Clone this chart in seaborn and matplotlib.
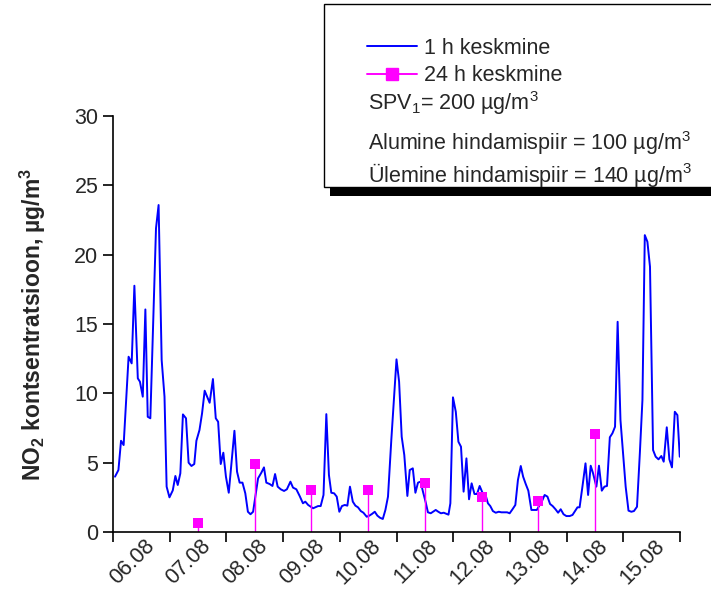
import matplotlib
matplotlib.use("Agg")
import matplotlib.pyplot as plt
import matplotlib.transforms as mtransforms
from matplotlib.lines import Line2D
from matplotlib.patches import Rectangle
import seaborn as sns
import pandas as pd
import numpy as np

# ---------------- data ----------------
# hours since 06.08 00:00, hourly NO2 (µg/m3)
hours = [0.85, 2.3, 3.4, 4.5, 6.6, 7.9, 9.05, 10.5, 11.4, 12.6, 13.7, 14.7, 15.8, 18.2, 19.3,
         20.6, 21.8, 22.7, 23.9, 25.3, 26.4, 27.4, 28.5, 29.6, 30.9, 32.0, 33.2, 34.4, 35.3,
         36.6, 37.7, 38.8, 40.9, 42.3, 43.5, 44.5, 45.6, 46.7, 47.8, 49.0, 51.4, 52.5, 53.6,
         54.8, 56.0, 57.1, 58.2, 59.3, 61.4, 62.8, 63.9, 64.9, 66.3, 67.5, 68.6, 69.7, 71.0,
         72.4, 73.6, 75.1, 76.2, 77.6, 79.0, 80.4, 81.4, 82.6, 84.7, 86.8, 87.9, 89.1, 90.3,
         91.4, 92.4, 93.6, 94.7, 95.8, 96.9, 98.1, 99.2, 100.3, 101.5, 102.6, 103.7, 104.9,
         106.0, 107.4, 108.5, 109.6, 110.8, 111.9, 113.0, 114.2, 115.3, 116.4, 117.8, 120.0,
         121.1, 122.2, 123.3, 124.6, 125.6, 126.9, 128.0, 129.1, 130.2, 131.2, 132.4, 133.3,
         134.5, 136.6, 137.7, 138.8, 140.0, 142.0, 142.8, 143.9, 145.1, 146.2, 147.3, 148.4,
         149.6, 150.7, 151.8, 153.0, 154.1, 155.2, 156.4, 157.8, 158.7, 159.7, 160.8, 162.0,
         163.3, 164.4, 166.8, 167.9, 169.1, 170.3, 171.4, 172.6, 173.6, 174.7, 175.8, 177.1,
         178.2, 179.4, 180.6, 181.8, 182.7, 183.9, 185.0, 186.1, 187.3, 188.4, 189.5, 190.7,
         191.9, 193.3, 194.5, 195.4, 196.6, 197.5, 198.7, 200.0, 201.1, 202.2, 203.2, 204.6,
         205.7, 206.9, 208.0, 209.1, 210.3, 211.4, 212.5, 213.6, 214.8, 215.9, 217.0, 218.2,
         219.4, 220.5, 221.8, 223.0, 224.1, 225.1, 226.2, 227.3, 228.6, 229.7, 230.9, 232.1,
         233.1, 234.4, 235.5, 236.6, 237.8, 238.9, 239.9]
no2_1h = [3.99, 4.47, 6.58, 6.27, 12.64, 12.16, 17.76, 11.08, 10.84, 9.76, 16.05, 8.31, 8.2,
          21.9, 23.58, 12.4, 9.76, 3.27, 2.5, 3.0, 4.04, 3.39, 4.23, 8.48, 8.2, 5.0, 4.76, 4.9,
          6.58, 7.35, 8.56, 10.19, 9.32, 11.03, 8.2, 7.95, 4.9, 5.72, 3.99, 2.83, 7.3, 4.35,
          3.56, 3.56, 2.79, 1.46, 1.28, 1.46, 3.87, 4.28, 4.66, 3.56, 3.46, 3.32, 4.18, 3.27,
          3.08, 2.96, 3.08, 3.63, 3.2, 3.08, 2.6, 2.07, 2.19, 1.95, 1.71, 1.87, 1.87, 2.67,
          8.5, 4.11, 2.83, 2.79, 2.55, 1.46, 1.87, 1.95, 1.9, 3.27, 2.19, 1.9, 1.78, 1.51,
          1.39, 1.1, 1.18, 1.3, 1.46, 1.18, 1.03, 0.94, 1.59, 2.55, 6.63, 12.45, 10.84, 6.87,
          5.55, 2.6, 4.47, 4.59, 2.83, 3.56, 3.63, 2.91, 2.11, 1.42, 1.35, 1.59, 1.46, 1.35,
          1.39, 1.25, 2.07, 9.71, 8.67, 6.51, 6.15, 2.91, 5.31, 2.36, 3.51, 2.74, 2.74, 3.32,
          2.83, 2.6, 2.07, 1.87, 1.51, 1.39, 1.46, 1.42, 1.42, 1.35, 1.64, 1.95, 3.75, 4.76,
          3.99, 3.46, 2.98, 1.59, 1.59, 1.59, 1.95, 2.31, 2.67, 2.55, 2.02, 1.87, 1.64, 1.39,
          1.64, 1.28, 1.15, 1.15, 1.23, 1.46, 1.78, 1.78, 3.27, 4.95, 2.67, 4.78, 4.23, 3.27,
          4.78, 2.98, 3.27, 3.32, 6.83, 7.12, 7.59, 15.16, 8.07, 5.67, 3.27, 1.54, 1.46, 1.51,
          1.82, 5.67, 9.52, 21.41, 20.93, 19.13, 5.91, 5.43, 5.24, 5.48, 5.07, 7.55, 5.24,
          4.66, 8.67, 8.43, 5.43]

# 24 h means (noon of each day)
day_hours = [36, 60, 84, 108, 132, 156, 180, 204]
no2_24h = [0.65, 4.9, 3.0, 3.0, 3.5, 2.5, 2.2, 7.1]

day_labels = ["06.08", "07.08", "08.08", "09.08", "10.08",
              "11.08", "12.08", "13.08", "14.08", "15.08"]

legend_labels = ["1 h keskmine", "24 h keskmine"]
info_lines = [r"SPV$_1$= 200 µg/m$^3$",
              r"Alumine hindamispiir = 100 µg/m$^3$",
              r"Ülemine hindamispiir = 140 µg/m$^3$"]

# ---------------- style ----------------
sns.set_theme(style="ticks")
plt.rcParams["font.family"] = ["Liberation Sans", "DejaVu Sans"]
plt.rcParams["mathtext.default"] = "regular"

FS = 15.5
W, H = 711, 594
fig = plt.figure(figsize=(W / 100, H / 100), dpi=100)
ax = fig.add_axes([113 / W, 1 - 532 / H, (680 - 113) / W, (532 - 116) / H])

df1 = pd.DataFrame({"h": hours, "v": no2_1h})
df24 = pd.DataFrame({"h": day_hours, "v": no2_24h})

sns.lineplot(data=df1, x="h", y="v", ax=ax, color="#0000ff", lw=1.4, legend=False)
ax.vlines(df24["h"], 0, df24["v"], color="#ff00ff", lw=1.0)
sns.scatterplot(data=df24, x="h", y="v", ax=ax, marker="s", s=60, color="#ff00ff",
                edgecolor="#ff00ff", linewidth=0, legend=False, zorder=5)

ax.set_xlim(0, 240)
ax.set_ylim(0, 30)
ax.set_yticks(np.arange(0, 31, 5))
ax.set_xticks(np.arange(0, 241, 24))
ax.set_xticklabels([])
ax.set_xticks(np.arange(12, 240, 24), minor=True)
ax.set_xticklabels(day_labels, minor=True, rotation=45, ha="right", va="center",
                   rotation_mode="anchor", fontsize=FS)
ax.tick_params(axis="x", which="minor", length=0, pad=8)
ax.tick_params(axis="both", which="major", direction="out", length=7, width=1.2,
               color="black", labelsize=FS)
ax.tick_params(axis="x", which="minor", labelsize=FS)
offset = mtransforms.ScaledTranslation(7 / 72, 0, fig.dpi_scale_trans)
for lab in ax.get_xticklabels(minor=True):
    lab.set_transform(lab.get_transform() + offset)
for s in ["left", "bottom"]:
    ax.spines[s].set_color("black")
    ax.spines[s].set_linewidth(1.2)
sns.despine(ax=ax)
ax.set_xlabel("")
ax.set_ylabel(r"NO$_2$ kontsentratsioon, µg/m$^3$", fontsize=16.5, fontweight="bold")
ax.yaxis.set_label_coords(-0.115, 0.5)

# ---------------- legend box ----------------
fig.patches.append(Rectangle((330 / W, 1 - 196 / H), (W - 330) / W + 0.01, 9 / H,
                             transform=fig.transFigure, facecolor="black",
                             edgecolor="none", zorder=1))
fig.patches.append(Rectangle((324 / W, 1 - 187 / H), (W - 324) / W + 0.01, 183 / H,
                             transform=fig.transFigure, facecolor="white",
                             edgecolor="black", lw=1.0, zorder=2))

handles = [Line2D([], [], color="#0000ff", lw=1.4),
           Line2D([], [], color="#ff00ff", lw=1.4, marker="s", markersize=8)]
leg = fig.legend(handles, legend_labels, loc="upper left",
                 bbox_to_anchor=(367 / W, 1 - 38 / H), bbox_transform=fig.transFigure,
                 frameon=False, fontsize=FS, handlelength=2.3, handletextpad=0.33,
                 labelspacing=0.3, borderpad=0, borderaxespad=0)
leg.set_zorder(3)

for txt, y in zip(info_lines, [103, 143, 175]):
    fig.text(368 / W, 1 - y / H, txt, fontsize=FS, va="center", ha="left", zorder=4)

fig.savefig("out.png", dpi=100)
